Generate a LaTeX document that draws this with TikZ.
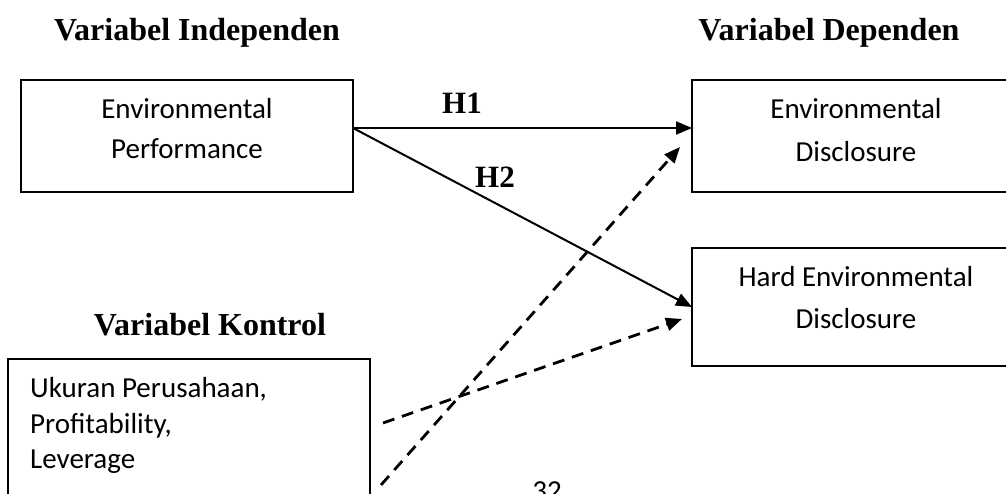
\documentclass[tikz,border=0pt]{standalone}
\usepackage{fontspec}
\setmainfont{Liberation Serif}
\newfontfamily\calfont{Carlito}
\usetikzlibrary{arrows.meta}
\begin{document}
\begin{tikzpicture}[x=1pt,y=-1pt,
  box/.style={draw, line width=2pt, inner sep=0pt, outer sep=0pt},
  lbl/.style={font=\calfont\fontsize{29}{35}\selectfont, anchor=base, inner sep=0pt},
  ttl/.style={font=\bfseries\fontsize{32}{38}\selectfont, anchor=base, inner sep=0pt},
  hyp/.style={font=\bfseries\fontsize{31}{36}\selectfont, anchor=base, inner sep=0pt},
  arr/.style={line width=2pt, -{Triangle[length=16pt,width=13pt]}},
  darr/.style={line width=2.8pt, dash pattern=on 12pt off 8pt, -{Triangle[length=16pt,width=13pt]}}]
\useasboundingbox (0,0) rectangle (1006,493);
\clip (0,0) rectangle (1006,493);
\fill[white] (0,0) rectangle (1006,493);

% titles
\node[ttl] (tind) at (197,40) {Variabel Independen};
\node[ttl] (tdep) at (829,40) {Variabel Dependen};
\node[ttl] (tkon) at (210,335) {Variabel Kontrol};

% boxes
\node[box, minimum width=332pt, minimum height=112pt] (ep) at (187,136) {};
\node[box, minimum width=328pt, minimum height=112pt] (ed) at (856,136) {};
\node[box, minimum width=328pt, minimum height=118pt] (hed) at (856,307) {};
\node[box, minimum width=362pt, minimum height=181pt] (kon) at (189,449.5) {};

% box texts
\node[lbl] (ep1) at (187,118) {Environmental};
\node[lbl] (ep2) at (187,158) {Performance};
\node[lbl] (ed1) at (856,118) {Environmental};
\node[lbl] (ed2) at (856,161) {Disclosure};
\node[lbl] (hed1) at (856,286) {Hard Environmental};
\node[lbl] (hed2) at (856,328) {Disclosure};
\node[lbl, anchor=base west] (k1) at (30,397) {Ukuran Perusahaan,};
\node[lbl, anchor=base west] (k2) at (30,433) {Profitability,};
\node[lbl, anchor=base west] (k3) at (30,468) {Leverage};

% hypothesis labels
\node[hyp] (h1) at (462,113) {H1};
\node[hyp] (h2) at (495,187) {H2};

% page number (cut off at the lower edge, as in the reference)
\node[lbl] (pg) at (547,500) {32};

% connectors
\coordinate (src) at (ep.east |- 0,128);
\draw[arr] (src) -- (ed.west |- src);
\draw[arr] (src) -- (hed.west);

\coordinate (d1s) at (381,485);
\coordinate (d1e) at (680,147);
\coordinate (d2s) at (383,423);
\coordinate (d2e) at (682,319);
\draw[darr] (d1s) -- (d1e);
\draw[darr] (d2s) -- (d2e);
\end{tikzpicture}
\end{document}
